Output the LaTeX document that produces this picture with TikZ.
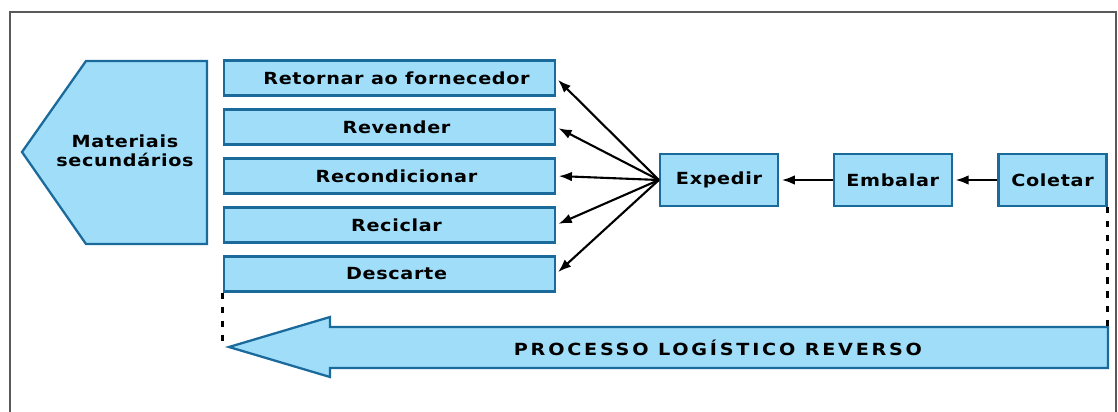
\documentclass[tikz,border=0pt]{standalone}
\usepackage{fontspec}
\newfontfamily\rotulo{DejaVu Sans Bold}[FakeStretch=1.15,LetterSpace=4]
\newfontfamily\rotulocaps{DejaVu Sans Bold}[FakeStretch=1.15,LetterSpace=16.5]
\usepackage{tikz}
\usetikzlibrary{arrows.meta,positioning}
\definecolor{azul}{HTML}{9FDDF9}
\definecolor{azulbd}{HTML}{1B6A9C}
\tikzset{>={Latex[length=7.5pt,width=5.5pt]},node distance=0.234cm,
  forma/.style={draw=azulbd,fill=azul,line width=1.3pt},
  etapa/.style={forma,minimum width=6.62cm,minimum height=0.7cm,inner sep=0pt,
    font=\rotulo\fontsize{9.5}{11}\selectfont},
  passo/.style={etapa,minimum width=2.36cm,minimum height=1.04cm},
  seta/.style={->,draw,line width=1.2pt,shorten >=1.5pt},
  tracejado/.style={draw,line width=1.6pt,dash pattern=on 3.5pt off 4.5pt},
  moldura/.style={draw=black!65,line width=1.1pt}}

\begin{document}
\begin{tikzpicture}[x=0.02cm,y=-0.02cm]
  \useasboundingbox (0,0) rectangle (1118,412);
  \draw[moldura] (10,412) |- (1116,12) -- (1116,412);

  % destinos
  \node[etapa] (ret) at (389.5,78) {\hspace{8pt}Retornar ao fornecedor};
  \node[etapa] (rev) [below=of ret] {\hspace{8pt}Revender};
  \node[etapa] (rec) [below=of rev] {\hspace{8pt}Recondicionar};
  \node[etapa] (cic) [below=of rec] {\hspace{8pt}Reciclar};
  \node[etapa] (desc) [below=of cic] {\hspace{8pt}Descarte};

  % materiais
  \path[forma] (207,61) -- (86,61) -- (22,152) -- (86,244) -- (207,244) -- cycle;
  \node[align=center,font=\rotulo\fontsize{9.5}{10.5}\selectfont] (mat) at (125,151) {Materiais\\secundários};

  % cadeia
  \node[passo] (exp) at (719,180) {Expedir};
  \node[passo] (emb) [right=1.07cm of exp] {Embalar};
  \node[passo,minimum width=2.16cm] (col) [right=0.89cm of emb] {Coletar};

  \path[every edge/.append style=seta]
  (exp.west) edge (ret.east)
  (exp.west) edge (rev.east)
  (exp.west) edge (rec.east)
  (exp.west) edge (cic.east)
  (exp.west) edge (desc.east)
  (emb) edge (exp)
  (col) edge (emb);

  % processo reverso
  \coordinate (ponta) at (229,347);
  \coordinate (haste) at (1107,327);
  \path[forma] (ponta) -- (330,317) -- (330,327) -- (1108,327) -- (1108,368)
    -- (330,368) -- (330,377) -- cycle;
  \node[font=\rotulocaps\fontsize{9.5}{11}\selectfont] (proc) at (718,348) {PROCESSO LOGÍSTICO REVERSO};

  \path[tracejado] (desc.south west) -- (desc.south west |- ponta);
  \path[tracejado] (col.south east) -- (col.south east |- haste);
\end{tikzpicture}
\end{document}
